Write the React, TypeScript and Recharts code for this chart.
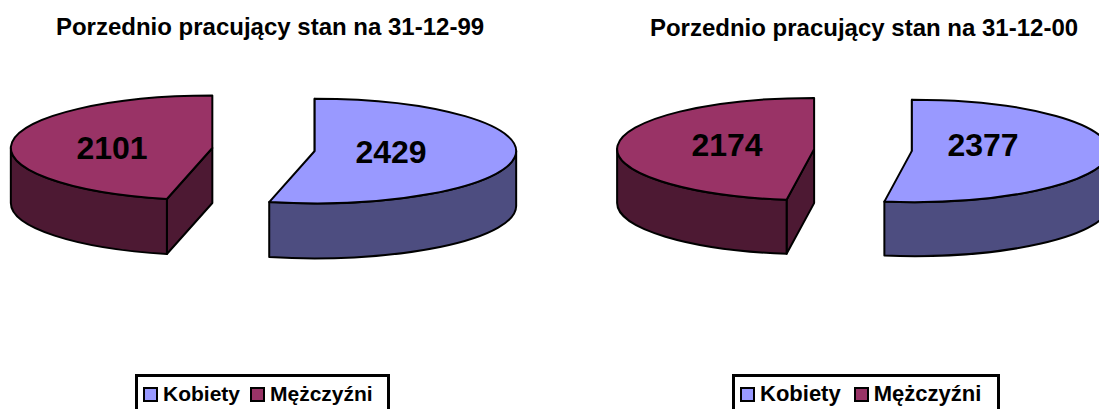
import { PieChart, Pie, Legend } from 'recharts';

const sliceNames = ['Kobiety', 'Mężczyźni'];
const values1999 = [2429, 2101];
const values2000 = [2377, 2174];

const topFills = ['#9999FF', '#993366'];
const wallFills = ['#4D4D80', '#4D1933'];
const FONT = '"Liberation Sans", Arial, sans-serif';

const toRows = (values: number[]) =>
  sliceNames.map((name, i) => ({ name, value: values[i], fill: topFills[i], wall: wallFills[i] }));

const rad = (a: number) => (a * Math.PI) / 180;

// recharts only does circles, so the slice is squashed to an ellipse here
function slice3d(props: any, squash: number, explode: number, depth: number) {
  const { cx, cy, outerRadius, startAngle, endAngle, midAngle, fill, wall } = props;
  const rx = outerRadius;
  const ry = outerRadius * squash;
  const ox = cx + Math.cos(rad(midAngle)) * explode;
  const oy = cy - Math.sin(rad(midAngle)) * explode * squash;
  const px = (a: number) => ox + rx * Math.cos(rad(a));
  const py = (a: number) => oy - ry * Math.sin(rad(a));

  const large = Math.abs(startAngle - endAngle) > 180 ? 1 : 0;
  const top = `M${ox},${oy} L${px(startAngle)},${py(startAngle)} A${rx},${ry} 0 ${large} 1 ${px(endAngle)},${py(endAngle)} Z`;
  const face = `M${ox},${oy} L${px(startAngle)},${py(startAngle)} v${depth} L${ox},${oy + depth} Z`;

  // only the front half of the rim shows
  const a1 = Math.min(startAngle, 0);
  const a2 = Math.max(endAngle, -180);
  const rim =
    a1 > a2
      ? `M${px(a1)},${py(a1)} A${rx},${ry} 0 0 1 ${px(a2)},${py(a2)} v${depth} A${rx},${ry} 0 0 0 ${px(a1)},${py(a1) + depth} Z`
      : '';

  return (
    <g stroke="#000" strokeWidth={2} strokeLinejoin="round">
      <path d={face} fill={wall} />
      {rim && <path d={rim} fill={wall} />}
      <path d={top} fill={fill} />
    </g>
  );
}

function LegendBox({ payload, fontSize, gap, inset }: any) {
  return (
    <div
      style={{
        boxSizing: 'border-box',
        height: 60,
        border: '3px solid #000',
        display: 'flex',
        alignItems: 'flex-start',
        paddingLeft: inset,
        paddingTop: 3,
        background: '#fff',
        fontFamily: FONT,
        fontWeight: 700,
        fontSize,
        lineHeight: '28px',
        color: '#000',
      }}
    >
      {(payload || []).map((p: any, i: number) => (
        <div key={p.value} style={{ display: 'flex', alignItems: 'center', marginLeft: i ? gap : 0 }}>
          <span
            style={{
              boxSizing: 'border-box',
              width: 15,
              height: 15,
              border: '2px solid #000',
              background: p.color,
              marginRight: 5,
            }}
          />
          {p.value}
        </div>
      ))}
    </div>
  );
}

function PieBlock({ left, width, title, titleX, titleY, values, cx, cy, radius, squash, explode, depth, labels, legend }: any) {
  return (
    <div style={{ position: 'absolute', left, top: 0 }}>
      <PieChart width={width} height={409} margin={{ top: 0, right: 0, bottom: 0, left: 0 }}>
        <text x={titleX} y={titleY} textAnchor="middle" fontFamily={FONT} fontWeight={700} fontSize={24} fill="#000">
          {title}
        </text>
        <Pie
          data={toRows(values)}
          dataKey="value"
          nameKey="name"
          cx={cx}
          cy={cy}
          outerRadius={radius}
          startAngle={90}
          endAngle={-270}
          legendType="square"
          isAnimationActive={false}
          labelLine={false}
          shape={(p: any) => slice3d(p, squash, explode, depth)}
          label={(p: any) => (
            <text
              x={cx + labels[p.index][0]}
              y={cy + labels[p.index][1]}
              textAnchor="middle"
              dominantBaseline="central"
              fontFamily={FONT}
              fontWeight={700}
              fontSize={32}
              fill="#000"
            >
              {p.value}
            </text>
          )}
        />
        <Legend
          layout="horizontal"
          verticalAlign="middle"
          align="center"
          wrapperStyle={{ left: legend.left, top: 374, width: legend.width }}
          content={(p: any) => <LegendBox payload={p.payload} fontSize={legend.fontSize} gap={legend.gap} inset={legend.inset} />}
        />
      </PieChart>
    </div>
  );
}

export default function App() {
  return (
    <div style={{ position: 'absolute', left: 0, top: 0, width: 1099, height: 409, overflow: 'hidden', background: '#fff' }}>
      <PieBlock
        left={0}
        width={549}
        title="Porzednio pracujący stan na 31-12-99"
        titleX={270}
        titleY={35}
        values={values1999}
        cx={263.5}
        cy={149.5}
        radius={201.5}
        squash={0.26}
        explode={51.5}
        depth={55}
        labels={[[127.5, 2.5], [-151.5, -1.5]]}
        legend={{ left: 135, width: 255, fontSize: 21, gap: 10, inset: 5 }}
      />
      <PieBlock
        left={549}
        width={551}
        title="Porzednio pracujący stan na 31-12-00"
        titleX={315}
        titleY={36}
        values={values2000}
        cx={314}
        cy={150}
        radius={197}
        squash={0.26}
        explode={49}
        depth={54}
        labels={[[120, -5], [-136, -5]]}
        legend={{ left: 183, width: 268, fontSize: 22, gap: 13, inset: 5 }}
      />
    </div>
  );
}
